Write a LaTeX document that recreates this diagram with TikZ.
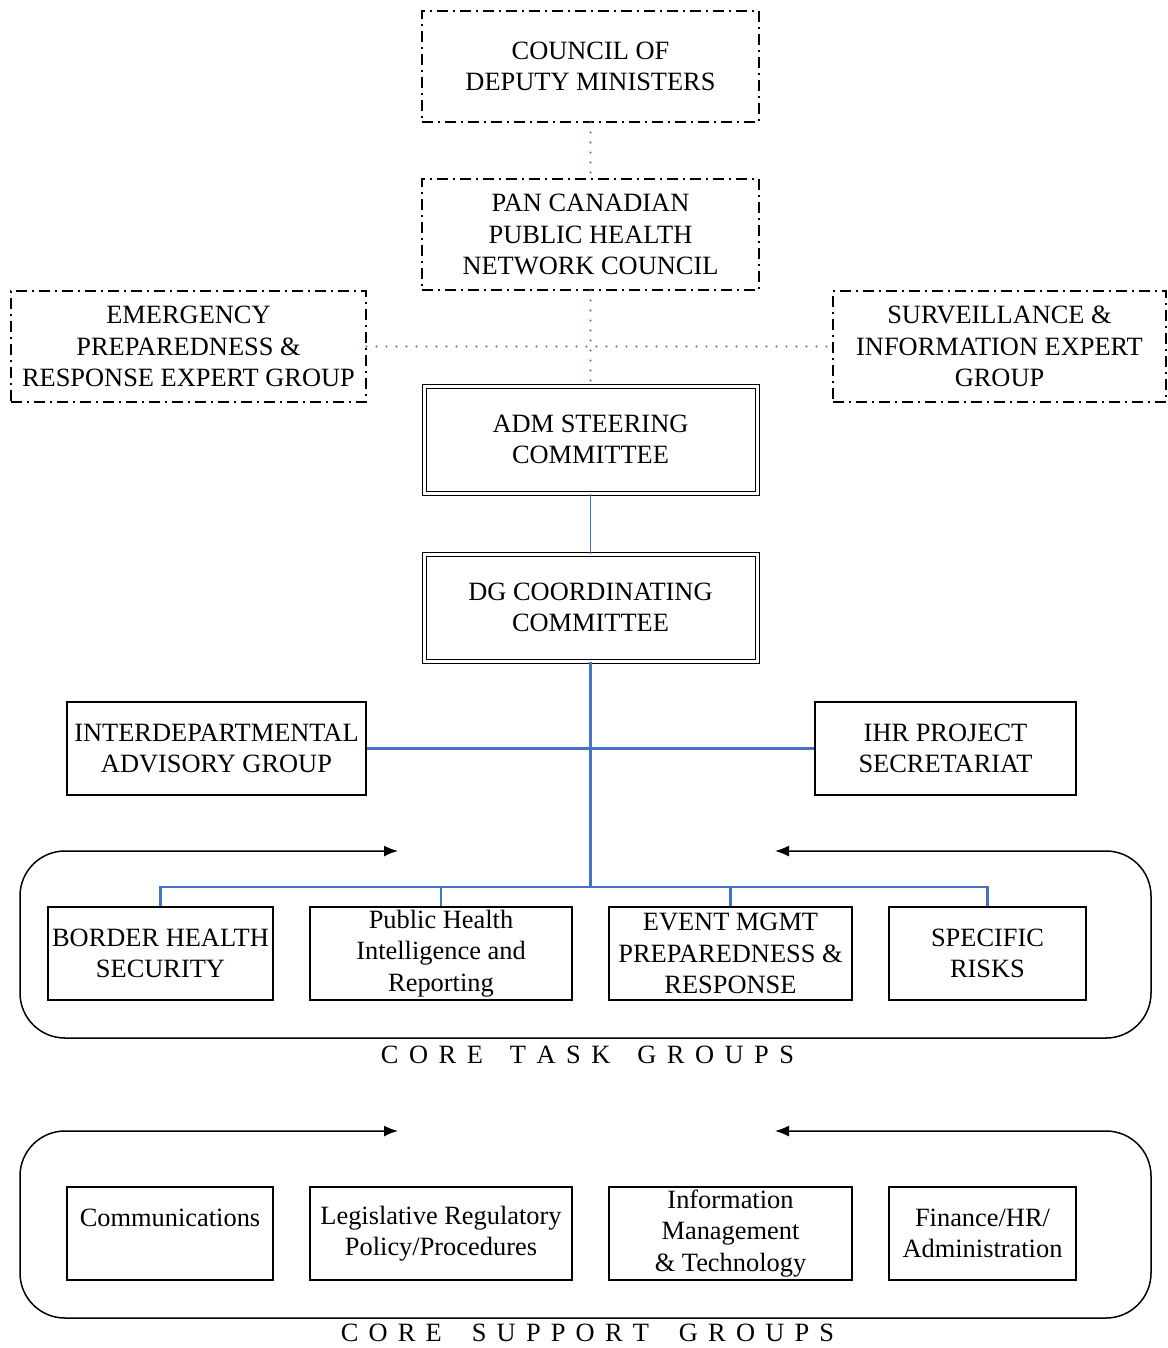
\documentclass[tikz,border=0pt]{standalone}
\usepackage{fontspec}
\setmainfont{Liberation Serif}
\usetikzlibrary{arrows.meta}
\definecolor{lnblue}{HTML}{4472C4}
\def\myLg{\hspace{10.5pt}}
\def\myWg{\hspace{27pt}}
\def\mySg{\hspace{10.2pt}}
\def\mySw{\hspace{30pt}}
\tikzset{
  txt/.style={font=\fontsize{26.4}{31.5}\selectfont, align=center, inner sep=0pt},
  dd/.style={txt, draw, line width=1.1pt, dash pattern=on 11pt off 5pt on 2pt off 5pt},
  dbl/.style={txt, draw, double, double distance=3pt, line width=1pt},
  box/.style={txt, draw, line width=1.2pt},
  dotblue/.style={lnblue, line width=2.2pt, line cap=round, dash pattern=on 0pt off 10pt},
  solidblue/.style={lnblue, line width=2.5pt},
  thinblue/.style={lnblue, line width=1.6pt},
  loop/.style={line width=1.5pt, rounded corners=45pt, {Latex[length=14pt,width=11pt]}-{Latex[length=14pt,width=11pt]}}
}
\begin{document}
\begin{tikzpicture}[x=1pt,y=-1pt]
\useasboundingbox (0,0) rectangle (1167,1348);
% top dash-dot boxes
\node[dd, minimum width=337pt, minimum height=111pt] (council) at (590.5,66.5) {COUNCIL OF\\DEPUTY MINISTERS};
\node[dd, minimum width=337pt, minimum height=111pt] (pan) at (590.5,234.5) {PAN CANADIAN\\PUBLIC HEALTH\\NETWORK COUNCIL};
\node[dd, minimum width=355pt, minimum height=111pt] (emerg) at (188.5,346.5) {EMERGENCY\\PREPAREDNESS \&\\RESPONSE EXPERT GROUP};
\node[dd, minimum width=333pt, minimum height=111pt] (surv) at (999.5,346.5) {SURVEILLANCE \&\\INFORMATION EXPERT\\GROUP};
% double boxes
\node[dbl, minimum width=333pt, minimum height=107pt] (adm) at (590.5,439.5) {ADM STEERING\\COMMITTEE};
\node[dbl, minimum width=333pt, minimum height=107pt] (dg) at (590.5,607.5) {DG COORDINATING\\COMMITTEE};
% side boxes
\node[box, minimum width=299pt, minimum height=93pt] (inter) at (216.5,748.5) {INTERDEPARTMENTAL\\ADVISORY GROUP};
\node[box, minimum width=261pt, minimum height=93pt] (ihr) at (945.5,748.5) {IHR PROJECT\\SECRETARIAT};
% core task boxes
\node[box, minimum width=225pt, minimum height=93pt] (border) at (160.5,953.5) {BORDER HEALTH\\SECURITY};
\node[box, minimum width=262pt, minimum height=93pt] (phir) at (441,953.5) {Public Health\\Intelligence and\\Reporting};
\node[box, minimum width=243pt, minimum height=93pt] (event) at (730.5,953.5) {EVENT MGMT\\PREPAREDNESS \&\\RESPONSE};
\node[box, minimum width=197pt, minimum height=93pt] (spec) at (987.5,953.5) {SPECIFIC\\RISKS};
% core support boxes
\node[box, minimum width=206pt, minimum height=93pt] (comm) at (170,1233.5) {Communications\\\mbox{}};
\node[box, minimum width=262pt, minimum height=93pt] (legis) at (441,1233.5) {Legislative Regulatory\\Policy/Procedures};
\node[box, minimum width=243pt, minimum height=93pt] (info) at (730.5,1233.5) {Information\\Management\\\& Technology};
\node[box, minimum width=187pt, minimum height=93pt] (fin) at (982.5,1233.5) {Finance/HR/\\Administration};
% group labels
\node[txt] (tasklbl) at (587.5,1055) {C\myLg O\myLg R\myLg E\myWg T\myLg A\myLg S\myLg K\myWg G\myLg R\myLg O\myLg U\myLg P\myLg S};
\node[txt] (suplbl) at (587.5,1333) {C\mySg O\mySg R\mySg E\mySw S\mySg U\mySg P\mySg P\mySg O\mySg R\mySg T\mySw G\mySg R\mySg O\mySg U\mySg P\mySg S};
% dotted connectors
\draw[dotblue] (council.south) -- (pan.north);
\draw[dotblue] (pan.south) -- (adm.north);
\draw[dotblue] (emerg.east) -- (surv.west);
% solid connectors
\draw[thinblue] (adm.south) -- (dg.north);
\coordinate (bus) at (590.5,887);
\draw[solidblue] (dg.south) -- (bus);
\draw[solidblue] (inter.east) -- (ihr.west);
\draw[solidblue] (border.north) -- (border.north |- bus) -- (spec.north |- bus) -- (spec.north);
\draw[solidblue] (phir.north) -- (phir.north |- bus);
\draw[solidblue] (event.north) -- (event.north |- bus);
% loop outlines
\coordinate (tl1) at (398,851);
\coordinate (tr1) at (775,851);
\draw[loop] (tl1) -- (20,851) -- (20,1038) -- (1151,1038) -- (1151,851) -- (tr1);
\coordinate (tl2) at (398,1131);
\coordinate (tr2) at (775,1131);
\draw[loop] (tl2) -- (20,1131) -- (20,1318) -- (1151,1318) -- (1151,1131) -- (tr2);
\end{tikzpicture}
\end{document}
